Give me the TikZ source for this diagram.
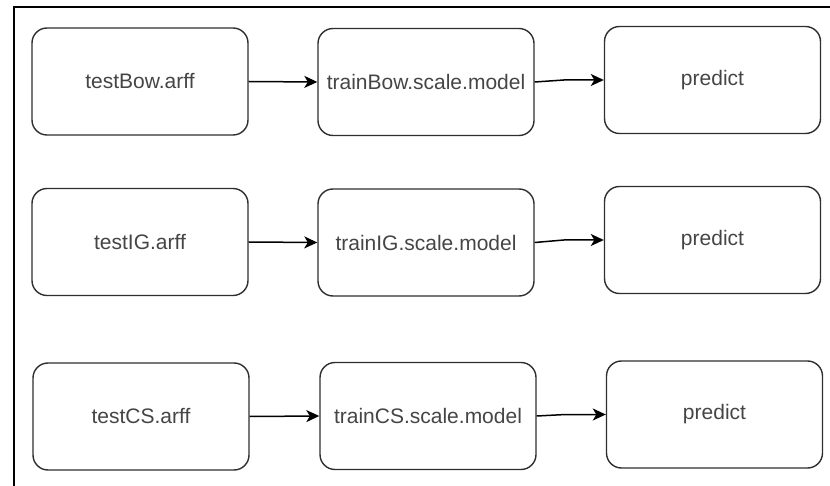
\documentclass[tikz,border=0pt]{standalone}
\usepackage{fontspec}
\setmainfont{Liberation Sans}
\usetikzlibrary{arrows.meta,calc}
\definecolor{boxline}{HTML}{2E2E2E}
\definecolor{boxtext}{HTML}{454545}
\tikzset{
  filebox/.style={draw=boxline, line width=1.4pt, rounded corners=15pt,
    rectangle, minimum width=216pt, minimum height=107pt, inner sep=0pt,
    text=boxtext, font=\fontsize{21}{25}\selectfont},
  flow/.style={draw=black, line width=1.5pt,
    -{Stealth[length=13pt, width=12pt, inset=3.5pt]}},
  frame/.style={draw=black, line width=2.2pt}
}
\begin{document}
\begin{tikzpicture}[x=1pt, y=-1pt]
  \useasboundingbox (0,0) rectangle (830,486);
  % outer frame: top and left edges only
  \coordinate (fl) at (14,486);
  \coordinate (fc) at (14,7);
  \coordinate (fr) at (830,7);
  \draw[frame] (fl) -- (fc) -- (fr);

  % row 1
  \node[filebox] (tb) at (140,81.5) {testBow.arff};
  \node[filebox] (mb) at (426,82)   {trainBow.scale.model};
  \node[filebox] (pb) at (712.5,80) {predict};
  % row 2
  \node[filebox] (ti) at (140,242)  {testIG.arff};
  \node[filebox] (mi) at (426,242.5) {trainIG.scale.model};
  \node[filebox] (pi) at (712.5,240) {predict};
  % row 3
  \node[filebox] (tc) at (141,416.5) {testCS.arff};
  \node[filebox] (mc) at (428,416)   {trainCS.scale.model};
  \node[filebox] (pc) at (714.5,414.5) {predict};

  % input -> model
  \draw[flow] (tb.east) -- (mb.west);
  \draw[flow] (ti.east) -- (mi.west);
  \draw[flow] (tc.east) -- (mc.west);
  % model -> predict, with a small step near the target
  \draw[flow] (mb.east) -- ($(pb.west)+(-40,0)$ |- mb.east) -- (pb.west);
  \draw[flow] (mi.east) -- ($(pi.west)+(-40,0)$ |- mi.east) -- (pi.west);
  \draw[flow] (mc.east) -- ($(pc.west)+(-40,0)$ |- mc.east) -- (pc.west);
\end{tikzpicture}
\end{document}
